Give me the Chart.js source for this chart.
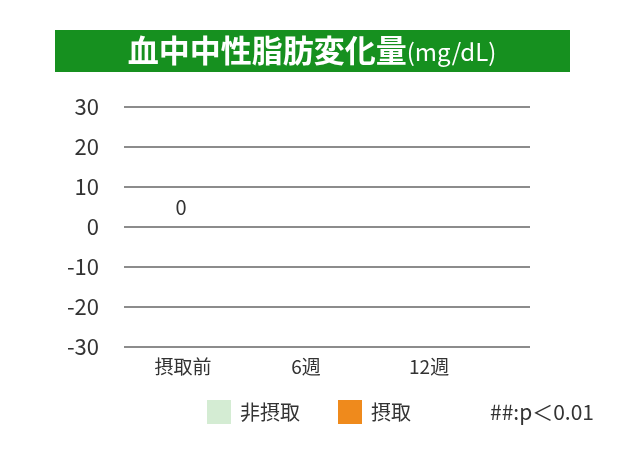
<!DOCTYPE html>
<html>
<head>
<meta charset="utf-8">
<script src="https://cdn.jsdelivr.net/npm/chart.js@4.4.1/dist/chart.umd.min.js"></script>
<style>
    html, body { margin: 0; padding: 0; background: #fff; }
    #wrap { width: 622px; height: 460px; position: relative; }
</style>
</head>
<body>
<div id="wrap"><canvas id="chart"></canvas></div>
<script>
    const categories = ["摂取前", "6週", "12週"];
    const nonIntake = [0, null, null];
    const intake = [0, null, null];
    const yTicks = [30, 20, 10, 0, -10, -20, -30];
    const seriesNames = ["非摂取", "摂取"];
    const titleMain = "血中中性脂肪変化量";
    const titleUnit = "(mg/dL)";
    const note = "##:p＜0.01";

    const FONT = "'Noto Sans CJK JP', 'Noto Sans', sans-serif";
    const TEXT = "#333333";

    const toPoints = (arr) => arr.map((v, i) => ({ x: i, y: v }));

    // 見出し・凡例・値ラベル
    const decor = {
        id: "decor",
        beforeDraw(chart) {
            const ctx = chart.ctx;
            ctx.save();
            ctx.fillStyle = "#16901f";
            ctx.fillRect(55, 30, 515, 42);
            ctx.font = "bold 31px " + FONT;
            const w1 = ctx.measureText(titleMain).width;
            ctx.font = "24px " + FONT;
            const w2 = ctx.measureText(titleUnit).width;
            let x = 312 - (w1 + w2) / 2;
            ctx.fillStyle = "#fff";
            ctx.textBaseline = "alphabetic";
            ctx.font = "bold 31px " + FONT;
            ctx.fillText(titleMain, x, 62);
            ctx.font = "24px " + FONT;
            ctx.fillText(titleUnit, x + w1, 61);
            ctx.restore();
        },
        afterDatasetsDraw(chart) {
            const ctx = chart.ctx;
            const xs = chart.scales.x, ys = chart.scales.y;
            ctx.save();
            ctx.font = "20px " + FONT;
            ctx.fillStyle = TEXT;
            ctx.textAlign = "center";
            ctx.textBaseline = "middle";
            categories.forEach((c, i) => {
                const a = nonIntake[i], b = intake[i];
                if (a == null || b == null || a !== b) return;
                ctx.fillText(String(a), xs.getPixelForValue(i) - 2, ys.getPixelForValue(a) - 20);
            });
            ctx.restore();
        },
        afterDraw(chart) {
            const ctx = chart.ctx;
            ctx.save();
            ctx.font = "20px " + FONT;
            ctx.textBaseline = "middle";
            const cy = 412;
            let x = 207;
            chart.data.datasets.forEach((ds) => {
                ctx.fillStyle = ds.backgroundColor;
                ctx.fillRect(x, cy - 12, 24, 24);
                ctx.fillStyle = TEXT;
                ctx.fillText(ds.label, x + 33, cy);
                x += 33 + ctx.measureText(ds.label).width + 38;
            });
            ctx.font = "21px " + FONT;
            ctx.fillText(note, 490, cy);
            ctx.restore();
        }
    };

    new Chart(document.getElementById("chart"), {
        type: "bar",
        data: {
            datasets: [
                { label: seriesNames[0], data: toPoints(nonIntake), backgroundColor: "#d4ecd3", borderWidth: 0 },
                { label: seriesNames[1], data: toPoints(intake), backgroundColor: "#ef8a1c", borderWidth: 0 }
            ]
        },
        options: {
            responsive: true,
            maintainAspectRatio: false,
            animation: false,
            layout: { padding: { top: 107, right: 92, left: 0, bottom: 73 } },
            plugins: { legend: { display: false }, tooltip: { enabled: false } },
            scales: {
                x: {
                    type: "linear",
                    offset: false,
                    min: -0.48,
                    max: 2.82,
                    afterBuildTicks: (s) => { s.ticks = categories.map((c, i) => ({ value: i })); },
                    afterFit: (s) => { s.height = 40; },
                    grid: { display: false, drawTicks: false },
                    border: { display: false },
                    ticks: {
                        padding: 8,
                        color: TEXT,
                        font: { family: FONT, size: 19 },
                        callback: (v) => categories[v]
                    }
                },
                y: {
                    min: -30,
                    max: 30,
                    afterBuildTicks: (s) => { s.ticks = yTicks.map((v) => ({ value: v })); },
                    afterFit: (s) => { s.width = 124; },
                    grid: { color: "#8c8c8c", lineWidth: 2, drawTicks: false },
                    border: { display: false },
                    ticks: {
                        padding: 25,
                        color: TEXT,
                        font: { family: FONT, size: 22 }
                    }
                }
            }
        },
        plugins: [decor]
    });
</script>
</body>
</html>
